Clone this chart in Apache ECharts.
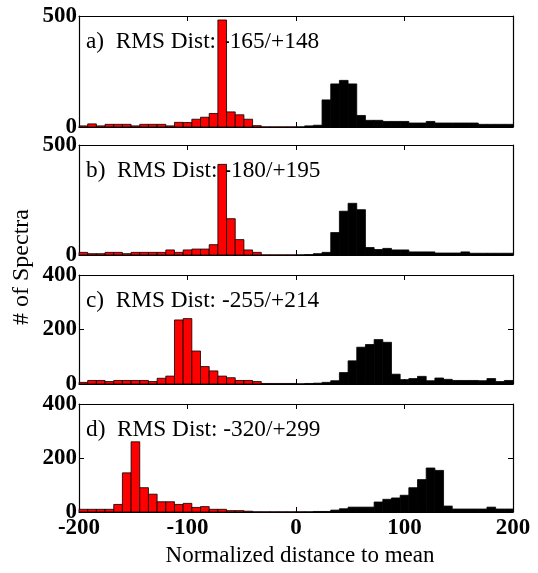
<!DOCTYPE html>
<html>
<head>
<meta charset="utf-8">
<script src="https://cdn.jsdelivr.net/npm/echarts@6/dist/echarts.min.js"></script>
<style>html,body{margin:0;padding:0;background:#fff;}#c{width:538px;height:573px;}</style>
</head>
<body>
<div id="c"></div>
<script>
// ---- data ----
const binWidth = 8;
const binStarts = [-200,-192,-184,-176,-168,-160,-152,-144,-136,-128,-120,-112,-104,-96,-88,-80,-72,-64,-56,-48,-40,-32,-24,-16,-8,
                   0,8,16,24,32,40,48,56,64,72,80,88,96,104,112,120,128,136,144,152,160,168,176,184,192];
const xTicks = [-200, -100, 0, 100, 200];
const panelLabels = ['a)  RMS Dist: -165/+148', 'b)  RMS Dist: -180/+195', 'c)  RMS Dist: -255/+214', 'd)  RMS Dist: -320/+299'];
const yMaxes = [500, 500, 400, 400];
const yIntervals = [500, 500, 200, 200];
const redA   = [5,14,5,12,12,12,5,12,12,12,5,21,20,35,44,61,482,68,55,35,6,1,1,1,1];
const blackA = [1,5,8,122,194,210,194,52,30,30,25,25,25,18,18,25,18,18,18,18,18,12,12,12,12];
const redB   = [12,6,6,12,12,6,12,12,12,12,23,12,23,27,27,47,412,165,70,23,12,1,1,1,1];
const blackB = [1,2,6,12,102,199,235,206,34,25,30,23,23,14,14,14,9,9,9,14,8,8,8,8,8];
const redC   = [6,13,13,9,13,13,13,13,9,21,29,235,240,121,64,48,29,23,13,13,9,2,2,2,2];
const blackC = [1,2,3,6,12,42,85,135,145,163,153,36,16,20,28,12,22,17,13,13,13,12,20,9,13];
const redD   = [10,10,10,10,28,145,260,90,66,38,38,28,32,17,20,10,10,5,5,3,1,1,1,1,1];
const blackD = [1,1,2,2,7,12,18,18,18,37,47,52,62,90,120,163,154,22,11,11,11,11,18,11,11];
const xTitle = 'Normalized distance to mean';
const yTitle = '# of Spectra';

const reds = [redA, redB, redC, redD];
const blacks = [blackA, blackB, blackC, blackD];

// ---- layout ----
const tops = [16, 145, 275, 404];
const heights = [111, 110, 109, 108];
const FONT = '"Liberation Serif", "Times New Roman", serif';

const grid = [], xAxis = [], yAxis = [], series = [], graphic = [];
function mkData(counts, offset) {
  return counts.map((v, i) => [binStarts[i + offset], binStarts[i + offset] + binWidth, v]);
}
function renderBar(color) {
  return function (params, api) {
    const x0 = api.value(0), x1 = api.value(1), v = api.value(2);
    const p0 = api.coord([x0, 0]);
    const p1 = api.coord([x1, v]);
    return {
      type: 'rect',
      shape: { x: p0[0], y: p1[1], width: p1[0] - p0[0], height: Math.max(p0[1] - p1[1], 0.5) },
      style: { fill: color, stroke: '#000', lineWidth: 0.8 }
    };
  };
}
for (let k = 0; k < 4; k++) {
  grid.push({ left: 79, right: 25, top: tops[k], height: heights[k], show: false });
  const xBase = {
    type: 'value', gridIndex: k, min: xTicks[0], max: xTicks[xTicks.length - 1], interval: 100,
    axisLine: { show: true, onZero: false, lineStyle: { color: '#000', width: 1.2 } },
    axisTick: { show: true, inside: true, length: 5, lineStyle: { color: '#000' } },
    splitLine: { show: false }
  };
  xAxis.push(Object.assign({}, xBase, {
    position: 'bottom',
    axisLabel: { show: k === 3, color: '#000', fontFamily: FONT, fontWeight: 'bold', fontSize: 23, margin: 5 }
  }));
  xAxis.push(Object.assign({}, xBase, { position: 'top', axisLabel: { show: false } }));
  const yBase = {
    type: 'value', gridIndex: k, min: 0, max: yMaxes[k], interval: yIntervals[k],
    axisLine: { show: true, onZero: false, lineStyle: { color: '#000', width: 1.2 } },
    axisTick: { show: true, inside: true, length: 5, lineStyle: { color: '#000' } },
    splitLine: { show: false }
  };
  yAxis.push(Object.assign({}, yBase, {
    position: 'left',
    axisLabel: { show: true, color: '#000', fontFamily: FONT, fontWeight: 'bold', fontSize: 23, margin: 2 }
  }));
  yAxis.push(Object.assign({}, yBase, { position: 'right', axisLabel: { show: false } }));

  series.push({
    type: 'custom', xAxisIndex: 2 * k, yAxisIndex: 2 * k, z: 5,
    data: mkData(reds[k], 0), encode: { x: [0, 1], y: 2 }, renderItem: renderBar('#ff0000')
  });
  series.push({
    type: 'custom', xAxisIndex: 2 * k, yAxisIndex: 2 * k, z: 5,
    data: mkData(blacks[k], 25), encode: { x: [0, 1], y: 2 }, renderItem: renderBar('#000000')
  });
  graphic.push({
    type: 'text', left: 86, top: tops[k] + 14, z: 0,
    style: { text: panelLabels[k], fill: '#000', font: '23.3px ' + FONT }
  });
}
graphic.push({
  type: 'text', x: 300, y: 556, z: 0,
  style: { text: xTitle, fill: '#000', font: '23px ' + FONT, textAlign: 'center', textVerticalAlign: 'middle' }
});
graphic.push({
  type: 'text', x: 22, y: 267, rotation: Math.PI / 2, z: 0,
  style: { text: yTitle, fill: '#000', font: '24px ' + FONT, textAlign: 'center', textVerticalAlign: 'middle' }
});

const chart = echarts.init(document.getElementById('c'), null, { renderer: 'canvas' });
chart.setOption({ animation: false, backgroundColor: '#fff', grid, xAxis, yAxis, series, graphic });
</script>
</body>
</html>
